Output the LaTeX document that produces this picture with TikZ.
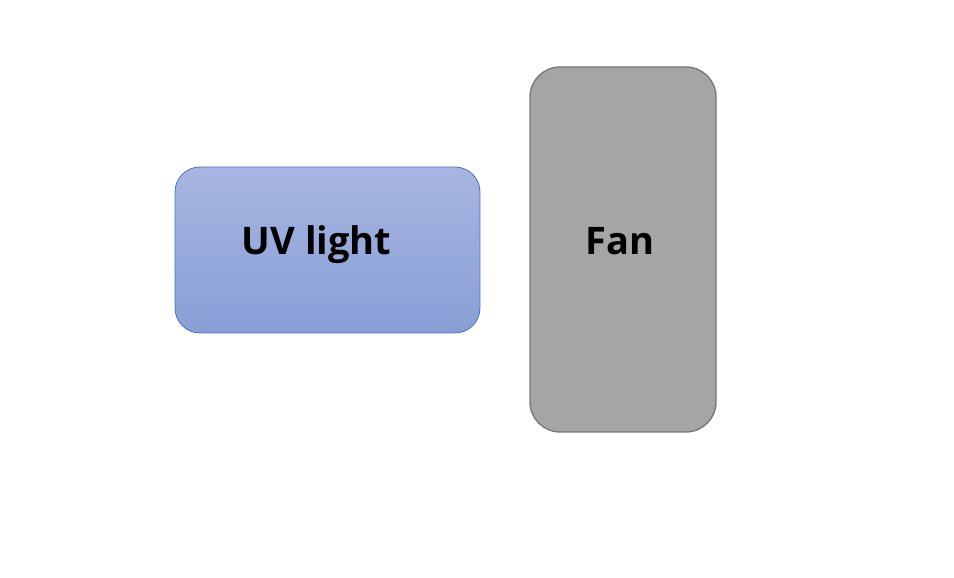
\documentclass[tikz,border=0pt]{standalone}
\usepackage{fontspec}
\setmainfont{Open Sans}
\usetikzlibrary{calc}
\definecolor{uvtop}{HTML}{A7B5E1}
\definecolor{uvbottom}{HTML}{889FD6}
\definecolor{uvedge}{HTML}{4472C4}
\definecolor{fanfill}{HTML}{A5A5A5}
\definecolor{fanedge}{HTML}{767676}
\begin{document}
\begin{tikzpicture}[
  x=1pt, y=1pt,
  box/.style={rectangle, inner sep=0pt, line width=0.8pt},
  lbl/.style={font=\fontsize{38}{42}\selectfont\bfseries, text=black, inner sep=0pt}
]
\useasboundingbox (0,0) rectangle (954,578);

\node[box, rounded corners=25pt, draw=uvedge, top color=uvtop, bottom color=uvbottom,
      minimum width=305pt, minimum height=166pt] (uv) at (327.5,328) {};
\node[lbl] (uvtxt) at ($(uv.center)+(-11,5)$) {UV light};

\node[box, rounded corners=30pt, draw=fanedge, line width=1.3pt, fill=fanfill,
      minimum width=186pt, minimum height=365pt] (fan) at (623,328.5) {};
\node[lbl] (fantxt) at ($(fan.center)+(-3,8)$) {Fan};

\end{tikzpicture}
\end{document}
